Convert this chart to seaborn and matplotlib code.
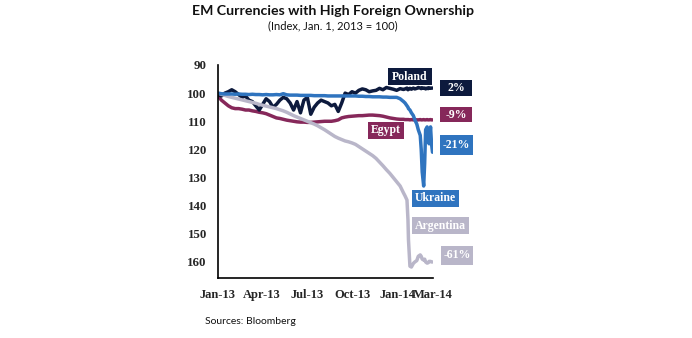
import matplotlib
matplotlib.use("Agg")
import matplotlib.pyplot as plt
import matplotlib.dates as mdates
import matplotlib.transforms as mtransforms
from matplotlib.patches import Rectangle
import numpy as np
import pandas as pd
import seaborn as sns

# ---------------- data ----------------
weekly_start = "2013-01-01"
weekly_count = 55  # weekly observations through 2014-01-14
tail_dates = ["2014-01-17", "2014-01-21", "2014-01-23", "2014-01-24", "2014-01-27",
              "2014-01-30", "2014-02-03", "2014-02-06", "2014-02-10", "2014-02-13",
              "2014-02-17", "2014-02-19", "2014-02-21", "2014-02-24", "2014-02-26",
              "2014-02-28", "2014-03-03", "2014-03-05", "2014-03-07", "2014-03-10",
              "2014-03-12", "2014-03-14"]

poland = [100.5, 101, 100, 99.5, 98.8, 99.5, 100.5, 101.5, 101, 102.5,
          103, 104.5, 106, 104, 102, 103, 105, 104, 102.5, 101.5,
          102, 103.5, 106, 103, 107, 102.5, 101.5, 107.5, 105, 103.5,
          102.5, 103, 103.5, 104.5, 104, 106.5, 103.5, 100, 100.5, 99.5,
          100, 99, 98.5, 98.8, 99.5, 99.2, 99, 98.3, 98.8, 98,
          98.3, 98.6, 99, 98.4, 98.7,
          98.5, 98.2, 98.8, 98.5, 98.3, 98.6, 98.2, 98.5, 98.3, 98,
          98.2, 98.4, 98.1, 98.3, 98.2, 98.5, 98.2, 98.4, 98.1, 98.3,
          98.2, 98.2]

egypt = [101, 102.5, 103.5, 104.5, 105.2, 105.5, 105.5, 105.7, 106, 106,
         106.3, 106.5, 106.8, 107, 107.3, 107.8, 108.3, 108.8, 109, 109.3,
         109.6, 109.8, 110, 110.2, 110.3, 110.3, 110.4, 110.4, 110.3, 110.2,
         110.1, 110, 110, 110, 109.8, 109.5, 108.8, 108.5, 108.3, 108.2,
         108.1, 108, 108, 107.9, 107.8, 107.8, 107.9, 108, 108.2, 108.5,
         108.8, 109, 109.2, 109.3, 109.3,
         109.4, 109.4, 109.4, 109.4, 109.5, 109.4, 109.5, 109.4, 109.5, 109.5,
         109.4, 109.5, 109.5, 109.4, 109.5, 109.5, 109.4, 109.5, 109.5, 109.4,
         109.5, 109.5]

ukraine = [100, 100.2, 100.3, 100.3, 100.3, 100.4, 100.3, 100.4, 100.4, 100.5,
           100.4, 100.5, 100.5, 100.6, 100.5, 100.6, 100.6, 100.5, 100.6, 100.2,
           100.6, 100.7, 100.7, 100.7, 100.8, 100.8, 100.8, 100.8, 100.9, 100.9,
           100.9, 100.9, 101, 101, 101, 101, 101, 101, 101, 101,
           101, 101.1, 101.1, 101.2, 101.2, 101.3, 101.3, 101.3, 101.4, 101.4,
           101.5, 101.5, 101.5, 102, 103,
           103.5, 104.5, 105, 105.5, 106, 107, 108, 109.5, 111, 113,
           115, 120, 128, 133, 125, 113, 112, 116, 118, 112,
           118, 121]

argentina = [100, 100.4, 100.8, 101.2, 101.5, 101.8, 102.1, 102.4, 102.7, 103,
             103.3, 103.6, 104, 104.3, 104.6, 104.9, 105.2, 105.5, 105.9, 106.3,
             106.8, 107.4, 108, 108.5, 109, 109.5, 110, 110.5, 111, 111.6,
             112.3, 113, 113.8, 114.6, 115.4, 116, 116.5, 117, 117.3, 117.7,
             118.2, 119, 119.8, 120.6, 121.4, 122.2, 123.2, 124.5, 125.8, 127.2,
             128.5, 130, 131.5, 133, 135.5,
             136.5, 138, 145, 152, 161.5, 161.8, 160.5, 160, 159.5, 158,
             157.5, 158, 159, 159.3, 159, 160, 160.4, 160.3, 159.8, 159.8,
             160, 160]

series_names = ["Egypt", "Poland", "Argentina", "Ukraine"]
series_colors = ["#86285a", "#0d1a3d", "#b9b6c9", "#2f74bf"]
final_labels = {"Poland": "2%", "Egypt": "-9%", "Ukraine": "-21%", "Argentina": "-61%"}

tick_dates = ["2013-01-01", "2013-04-01", "2013-07-01", "2013-10-01", "2014-01-01", "2014-03-15"]
tick_labels = ["Jan-13", "Apr-13", "Jul-13", "Oct-13", "Jan-14", "Mar-14"]
y_ticks = [90, 100, 110, 120, 130, 140, 150, 160]

# ---------------- build frame ----------------
dates = list(pd.date_range(weekly_start, periods=weekly_count, freq="7D")) + list(pd.to_datetime(tail_dates))
values = {"Poland": poland, "Egypt": egypt, "Ukraine": ukraine, "Argentina": argentina}
rows = []
for name in series_names:
    for d, v in zip(dates, values[name]):
        rows.append({"date": d, "value": v, "currency": name})
df = pd.DataFrame(rows)

# ---------------- plot ----------------
sns.set_style("white")
W, H = 692, 338
fig = plt.figure(figsize=(W / 100, H / 100), dpi=100)
L, R, T, B = 218, 433, 65, 278
ax = fig.add_axes([L / W, 1 - B / H, (R - L) / W, (B - T) / H])

sns.lineplot(data=df, x="date", y="value", hue="currency", hue_order=series_names,
             palette=series_colors, linewidth=2.5, legend=False, estimator=None,
             sort=False, ax=ax)

ax.set_xlim(pd.Timestamp("2013-01-01"), pd.Timestamp("2014-03-15"))
ax.set_ylim(165.7, 90)
ax.set_xlabel("")
ax.set_ylabel("")

serif_bold = dict(family="Liberation Serif", weight="bold", size=9.3)
ax.set_yticks(y_ticks)
ax.set_yticklabels([str(t) for t in y_ticks], fontdict=serif_bold)
ax.set_xticks([mdates.date2num(pd.Timestamp(d)) for d in tick_dates])
ax.set_xticklabels(tick_labels, fontdict=dict(serif_bold, size=9))

# nudge the crowded last two x labels apart, as in the reference
xlabels = ax.get_xticklabels()
xlabels[-1].set_transform(xlabels[-1].get_transform() +
                          mtransforms.ScaledTranslation(4 / 100, 0, fig.dpi_scale_trans))
xlabels[-2].set_transform(xlabels[-2].get_transform() +
                          mtransforms.ScaledTranslation(-2 / 100, 0, fig.dpi_scale_trans))

for s in ["top", "right"]:
    ax.spines[s].set_visible(False)
for s in ["left", "bottom"]:
    ax.spines[s].set_color("black")
    ax.spines[s].set_linewidth(1.2)
ax.tick_params(axis="y", direction="out", length=4, width=1.1, pad=4, color="black")
ax.tick_params(axis="x", direction="in", length=4, width=1.1, pad=8, color="black")
ax.grid(False)

# ---------------- label boxes ----------------
def box(x0, x1, y0, y1, color, text):
    fig.patches.append(Rectangle((x0 / W, 1 - y1 / H), (x1 - x0) / W, (y1 - y0) / H,
                                 transform=fig.transFigure, facecolor=color,
                                 edgecolor="none", zorder=5))
    fig.text((x0 + x1) / 2 / W, 1 - (y0 + y1) / 2 / H, text, color="white",
             ha="center", va="center", family="Liberation Serif", weight="bold",
             size=8.5, zorder=6)

cmap = dict(zip(series_names, series_colors))
box(388, 432, 68, 85, cmap["Poland"], "Poland")
box(440, 472, 80, 96, cmap["Poland"], final_labels["Poland"])
box(440, 472, 107, 122, cmap["Egypt"], final_labels["Egypt"])
box(368, 404, 122, 139, cmap["Egypt"], "Egypt")
box(440, 473, 135, 155, cmap["Ukraine"], final_labels["Ukraine"])
box(412, 459, 190, 207, cmap["Ukraine"], "Ukraine")
box(412, 469, 217, 234, cmap["Argentina"], "Argentina")
box(441, 473, 246, 265, cmap["Argentina"], final_labels["Argentina"])

# ---------------- titles ----------------
fig.text(333 / W, 1 - 11 / H, "EM Currencies with High Foreign Ownership",
         ha="center", va="center", family="Lato", weight="bold", size=10.2, color="#111111")
fig.text(333 / W, 1 - 26 / H, "(Index, Jan. 1, 2013 = 100)",
         ha="center", va="center", family="Lato", size=8, color="#111111")
fig.text(205 / W, 1 - 322 / H, "Sources: Bloomberg",
         ha="left", va="center", family="Lato", size=7.5, color="#111111")

fig.savefig("out.png", dpi=100, facecolor="white")
